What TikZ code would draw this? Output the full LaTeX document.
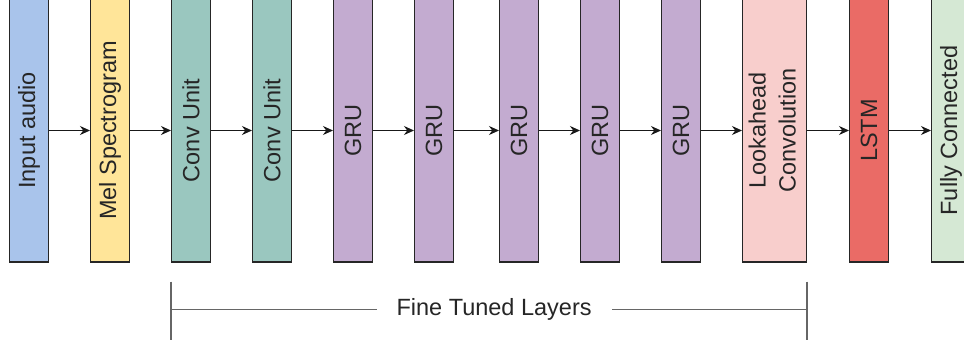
\documentclass[tikz,border=0pt]{standalone}
\usepackage{fontspec}
\setmainfont{Liberation Sans}
\usepackage{tikz}
\usetikzlibrary{positioning,arrows.meta}

\definecolor{audioblue}{HTML}{A9C4EB}
\definecolor{melyellow}{HTML}{FFE599}
\definecolor{convgreen}{HTML}{9AC7BF}
\definecolor{grupurple}{HTML}{C3ABD0}
\definecolor{lookpink}{HTML}{F8CECC}
\definecolor{lstmred}{HTML}{EA6B66}
\definecolor{fcgreen}{HTML}{D5E8D4}

\tikzset{
  layer/.style={draw=black!85, line width=1.3pt, minimum width=38.7pt,
    minimum height=263pt, inner sep=0pt, text=black!85,
    font=\fontsize{23.5}{30}\selectfont},
  conn/.style={-{Stealth[length=10pt,width=9pt]}, line width=1.4pt, black!90},
  brk/.style={line width=1.2pt, black!60},
}

\begin{document}
\begin{tikzpicture}[x=1pt,y=-1pt,node distance=41pt]
\useasboundingbox (0,0) rectangle (964,347);
% layers
\node[layer,fill=audioblue] (in) at (29,130.5) {\rotatebox{90}{Input audio}};
\node[layer,fill=melyellow,right=of in] (mel) {\rotatebox{90}{Mel Spectrogram}};
\node[layer,fill=convgreen,right=of mel] (c1) {\rotatebox{90}{Conv Unit}};
\node[layer,fill=convgreen,right=of c1] (c2) {\rotatebox{90}{Conv Unit}};
\node[layer,fill=grupurple,right=of c2] (g1) {\rotatebox{90}{GRU}};
\node[layer,fill=grupurple,right=of g1] (g2) {\rotatebox{90}{GRU}};
\node[layer,fill=grupurple,right=45pt of g2] (g3) {\rotatebox{90}{GRU}};
\node[layer,fill=grupurple,right=of g3] (g4) {\rotatebox{90}{GRU}};
\node[layer,fill=grupurple,right=of g4] (g5) {\rotatebox{90}{GRU}};
\node[layer,fill=lookpink,minimum width=63.7pt,right=of g5] (look)
  {\rotatebox{90}{\begin{tabular}{@{}c@{}}Lookahead\\Convolution\end{tabular}}};
\node[layer,fill=lstmred,right=42pt of look] (lstm) {\rotatebox{90}{LSTM}};
\node[layer,fill=fcgreen,right=42pt of lstm] (fc) {\rotatebox{90}{Fully Connected}};

% arrows
\foreach \a/\b in {in/mel,mel/c1,c1/c2,c2/g1,g1/g2,g2/g3,g3/g4,g4/g5,g5/look,look/lstm,lstm/fc}
  \draw[conn] (\a.east) -- (\b.west);

% fine tuned bracket
\coordinate[below=19pt of c1.south west] (lt);
\coordinate[below=77pt of c1.south west] (lb);
\coordinate[below=47pt of c1.south west] (lm);
\coordinate[below=19pt of look.south east] (rt);
\coordinate[below=77pt of look.south east] (rb);
\coordinate[below=47pt of look.south east] (rm);
\draw[brk] (lt) -- (lb);
\draw[brk] (rt) -- (rb);
\draw[brk] (lm) -- (rm) node[pos=.508,fill=white,inner xsep=20pt,text=black!85,
  font=\fontsize{23.5}{28}\selectfont] (ft) {Fine Tuned Layers};
\end{tikzpicture}
\end{document}
